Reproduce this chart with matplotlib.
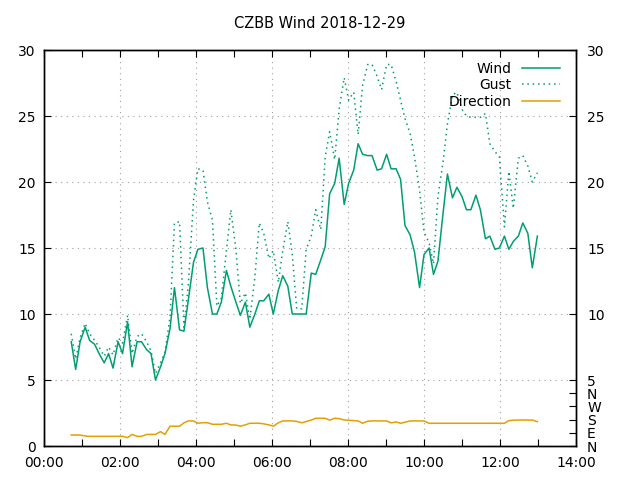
import matplotlib
matplotlib.use("Agg")
import matplotlib.pyplot as plt
import matplotlib.dates as mdates
from matplotlib.ticker import FixedLocator
import pandas as pd

title = "CZBB Wind 2018-12-29"
day = "2018-12-29"

times = ["00:43", "00:50", "00:57", "01:05", "01:12", "01:20", "01:27", "01:35", "01:42", "01:49",
         "01:57", "02:04", "02:12", "02:19", "02:27", "02:34", "02:42", "02:49", "02:56", "03:04",
         "03:11", "03:19", "03:26", "03:34", "03:41", "03:48", "03:56", "04:03", "04:11", "04:18",
         "04:26", "04:33", "04:40", "04:48", "04:55", "05:03", "05:10", "05:18", "05:25", "05:33",
         "05:40", "05:47", "05:55", "06:02", "06:10", "06:17", "06:25", "06:32", "06:39", "06:47",
         "06:54", "07:02", "07:09", "07:17", "07:24", "07:31", "07:39", "07:46", "07:54", "08:01",
         "08:09", "08:16", "08:23", "08:31", "08:38", "08:46", "08:53", "09:01", "09:08", "09:16",
         "09:23", "09:30", "09:38", "09:45", "09:53", "10:00", "10:08", "10:15", "10:22", "10:30",
         "10:37", "10:45", "10:52", "11:00", "11:07", "11:14", "11:22", "11:29", "11:37", "11:44",
         "11:52", "11:59", "12:07", "12:14", "12:21", "12:29", "12:36", "12:44", "12:51", "12:59"]

wind = [7.9, 5.8, 7.9, 9.0, 8.0, 7.7, 7.0, 6.3, 7.0, 5.9,
        7.9, 7.0, 9.4, 6.0, 7.9, 7.9, 7.3, 7.0, 5.0, 6.0,
        7.0, 8.9, 12.0, 8.8, 8.7, 11.1, 13.9, 14.9, 15.0, 12.0,
        10.0, 10.0, 10.9, 13.3, 12.1, 10.9, 9.9, 10.9, 9.0, 10.0,
        11.0, 11.0, 11.5, 10.0, 11.8, 12.9, 12.1, 10.0, 10.0, 10.0,
        10.0, 13.1, 13.0, 14.1, 15.1, 19.1, 19.9, 21.8, 18.3, 19.9,
        20.9, 22.9, 22.1, 22.0, 22.0, 20.9, 21.0, 22.1, 21.0, 21.0,
        20.2, 16.7, 16.0, 14.7, 12.0, 14.5, 15.0, 13.0, 14.0, 17.6,
        20.6, 18.8, 19.6, 18.9, 17.9, 17.9, 19.0, 17.9, 15.7, 15.9,
        14.9, 15.0, 15.9, 14.9, 15.5, 15.9, 16.9, 16.1, 13.5, 15.9]

gust = [8.5, 6.6, 8.2, 9.3, 8.5, 8.0, 7.5, 6.8, 7.5, 6.9,
        8.2, 7.8, 9.9, 7.0, 8.3, 8.5, 7.9, 7.2, 5.5, 6.3,
        7.1, 9.8, 16.9, 17.0, 9.0, 12.3, 18.6, 21.0, 20.9, 18.5,
        17.1, 10.6, 11.2, 14.8, 17.9, 14.9, 10.8, 11.6, 9.6, 12.8,
        16.9, 16.1, 14.2, 14.8, 12.4, 14.8, 17.0, 14.5, 10.4, 10.4,
        14.9, 15.9, 17.9, 16.4, 21.9, 23.8, 21.7, 25.5, 27.9, 26.2,
        26.8, 23.6, 27.3, 28.9, 28.9, 28.0, 27.0, 28.9, 28.9, 27.6,
        26.2, 24.8, 23.7, 21.9, 19.4, 16.2, 15.4, 13.8, 18.9, 21.5,
        24.4, 26.6, 26.8, 25.5, 25.0, 24.9, 24.9, 24.9, 25.2, 22.9,
        22.3, 21.9, 16.6, 20.8, 18.0, 21.8, 22.0, 21.2, 20.0, 20.7]

direction = [75, 75, 75, 68, 66, 66, 66, 66, 66, 66,
             66, 66, 57, 79, 66, 66, 79, 79, 79, 98,
             79, 135, 135, 135, 158, 171, 171, 155, 159, 159,
             148, 148, 148, 155, 144, 143, 135, 144, 155, 155,
             155, 151, 144, 135, 158, 171, 171, 171, 168, 158,
             167, 177, 189, 189, 189, 176, 189, 187, 177, 176,
             173, 171, 155, 169, 171, 171, 171, 171, 158, 164,
             155, 162, 171, 171, 171, 171, 155, 155, 155, 155,
             155, 155, 155, 155, 155, 155, 155, 155, 155, 155,
             155, 155, 155, 173, 176, 177, 177, 177, 177, 166]

speed_ticks = [0, 5, 10, 15, 20, 25, 30]
dir_ticks = [0, 90, 180, 270, 360]
dir_labels = ["N", "E", "S", "W", "N"]

green = "#009e73"
orange = "#e69f00"

t = pd.to_datetime([f"{day} {s}" for s in times])
t0 = pd.Timestamp(f"{day} 00:00")
t1 = pd.Timestamp(f"{day} 14:00")

fig = plt.figure(figsize=(6.4, 4.8), dpi=100)
ax = fig.add_axes([44 / 640, 34 / 480, 532 / 640, 396 / 480])
ax2 = ax.twinx()

l1, = ax.plot(t, wind, color=green, lw=1.1, label="Wind")
l2, = ax.plot(t, gust, color=green, lw=1.1, linestyle=(0, (1, 2.5)), label="Gust")
l3, = ax2.plot(t, direction, color=orange, lw=1.1, label="Direction")

ax.set_xlim(t0, t1)
ax.set_ylim(0, 30)
ax.set_yticks(speed_ticks)
ax.xaxis.set_major_locator(mdates.HourLocator(byhour=range(0, 24, 2)))
ax.xaxis.set_minor_locator(mdates.HourLocator(byhour=range(1, 24, 2)))
ax.xaxis.set_major_formatter(mdates.DateFormatter("%H:%M"))
ax.grid(True, which="major", color="#a0a0a0", linestyle=(0, (1, 4)), lw=0.8)

# right axis: speed ticks 5..30 scaled to degrees (1 unit = 90 deg) and compass labels
ax2.set_ylim(0, 30 * 90)
r_ticks = dir_ticks + [v * 90 for v in speed_ticks[1:]]
r_labels = dir_labels + [str(v) for v in speed_ticks[1:]]
ax2.yaxis.set_major_locator(FixedLocator(r_ticks))
ax2.set_yticklabels(r_labels)

for a in (ax, ax2):
    a.tick_params(which="both", direction="in", length=5, width=0.8, labelsize=10,
                  top=True, colors="black")
    for s in a.spines.values():
        s.set_linewidth(1.0)
ax.tick_params(axis="y", pad=6, right=False)
ax.tick_params(axis="x", pad=7)
ax2.tick_params(axis="y", pad=8)

fig.text(0.5, 1 - 24 / 480, title, fontsize=10.5, ha="center", va="center")

leg = ax2.legend(handles=[l1, l2, l3], loc="upper right", frameon=False,
                 markerfirst=False, fontsize=10, handlelength=2.8,
                 handletextpad=0.7, labelspacing=0.2,
                 bbox_to_anchor=(1 - 10 / 532, 1 - 6 / 396), borderaxespad=0)

fig.savefig("out.png", dpi=100)
